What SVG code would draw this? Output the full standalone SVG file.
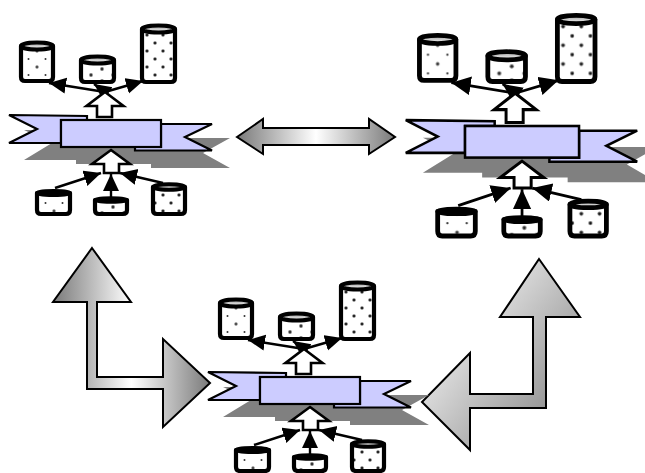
<svg xmlns="http://www.w3.org/2000/svg" width="645" height="473" viewBox="0 0 645 473">
<style>
.big{stroke:#000;stroke-width:2;stroke-linejoin:miter}
.rib{fill:#ccccff;stroke:#000;stroke-width:2.200;stroke-linejoin:miter}
.shadow{fill:#808080}
.hollow{fill:#fff;stroke:#000;stroke-width:2.600;stroke-linejoin:miter}
.cyl{stroke:#000;stroke-width:4.200;stroke-linejoin:round}
.cap{fill:url(#capg);stroke:#000;stroke-width:4}
.wire{fill:none;stroke:#000;stroke-width:2.400;marker-end:url(#head)}
.sparse{fill:url(#dotsA)}
.medium{fill:url(#dotsB)}
.dense{fill:url(#dotsC)}
</style>
<defs>
<linearGradient id="mid" x1="0" y1="0" x2="1" y2="0"><stop offset="0" stop-color="#7a7a7a"/><stop offset=".5" stop-color="#fff"/><stop offset="1" stop-color="#7a7a7a"/></linearGradient>
<linearGradient id="diag" gradientUnits="userSpaceOnUse" x1="440" y1="330" x2="560" y2="420"><stop offset="0" stop-color="#ececec"/><stop offset="1" stop-color="#8c8c8c"/></linearGradient>
<linearGradient id="capg" x1="0" y1="0" x2="0" y2="1"><stop offset="0" stop-color="#999"/><stop offset="1" stop-color="#fff"/></linearGradient>
<pattern id="dotsA" patternUnits="userSpaceOnUse" width="17" height="16"><rect width="17" height="16" fill="#fff"/><circle cx="3" cy="3" r="1.700" fill="#777"/><circle cx="3" cy="3" r=".8" fill="#222"/><circle cx="11.500" cy="11" r="1" fill="#333"/></pattern>
<pattern id="dotsB" patternUnits="userSpaceOnUse" width="22" height="12"><rect width="22" height="12" fill="#fff"/><circle cx="3" cy="3" r="1.900" fill="#777"/><circle cx="3" cy="3" r="1" fill="#222"/><circle cx="14" cy="9" r="1.900" fill="#777"/><circle cx="14" cy="9" r="1" fill="#222"/></pattern>
<pattern id="dotsC" patternUnits="userSpaceOnUse" width="16" height="16"><rect width="16" height="16" fill="#fff"/><circle cx="3" cy="3" r="1.800" fill="#666"/><circle cx="3" cy="3" r="1" fill="#111"/><circle cx="11" cy="11" r="1.800" fill="#666"/><circle cx="11" cy="11" r="1" fill="#111"/></pattern>
<marker id="head" markerUnits="userSpaceOnUse" markerWidth="20" markerHeight="18" refX="17" refY="8" orient="auto"><path d="M0,0L17,8L0,16Z" fill="#000"/></marker>
<path id="ribbon-l" d="M9,115L87,116V120H61V143H9L37,129Z"/>
<path id="ribbon-r" d="M212,124H161V147H135V150.500H212L185,137Z"/>
<g id="hub">
<path class="shadow" d="M24,130H100V138H230L203,153L230,168H151V164H76V160H24L52,143Z"/>
<use href="#ribbon-l" class="rib"/><use href="#ribbon-r" class="rib"/>
<rect x="61" y="120" width="100" height="27" class="rib"/>
</g>
<g id="cyl-a"><path class="cyl sparse" d="M21,46V77Q21,81 25,81H49Q53,81 53,77V46Z"/><ellipse class="cap" cx="37" cy="46" rx="16" ry="3.500"/></g>
<g id="cyl-b"><path class="cyl medium" d="M81,60V78Q81,82 85,82H110Q114,82 114,78V60Z"/><ellipse class="cap" cx="97.500" cy="60" rx="16.500" ry="3.500"/></g>
<g id="cyl-c"><path class="cyl dense" d="M142,29V78Q142,82 146,82H171Q175,82 175,78V29Z"/><ellipse class="cap" cx="158.500" cy="29" rx="16.500" ry="3.500"/></g>
<g id="cyl-d"><path class="cyl sparse" d="M37,193V210Q37,214 41,214H66Q70,214 70,210V193Z"/><ellipse class="cap" cx="53.500" cy="193" rx="16.500" ry="2"/></g>
<g id="cyl-e"><path class="cyl medium" d="M95,200V210Q95,214 99,214H123Q127,214 127,210V200Z"/><ellipse class="cap" cx="111" cy="200" rx="16" ry="1.800"/></g>
<g id="cyl-f"><path class="cyl dense" d="M153,187V210Q153,214 157,214H181Q185,214 185,210V187Z"/><ellipse class="cap" cx="169" cy="187" rx="16" ry="2.800"/></g>
<g id="wires">
<path class="wire" d="M105,92L49,83"/><path class="wire" d="M105,92L143,81"/><path class="wire" d="M108,94L94,84"/>
<path class="hollow" d="M105,92L123.500,106H112V117H97V106H86.500Z"/>
<path class="hollow" d="M111,150L130,164H119V173H104V164H92Z"/>
<path class="wire" d="M55,188L101,173"/><path class="wire" d="M111,197V174"/><path class="wire" d="M163,183L120,173"/>
</g>
</defs>
<g id="connectors">
<path id="double-arrow" class="big" fill="url(#mid)" d="M237,137L263,119V128H369V119L395,137L369,154V145H263V154Z"/>
<path id="bent-arrow-left" class="big" fill="url(#mid)" d="M92,248L131,302H97V377H163V339L210,383L163,427V389H87V302H53Z"/>
<path id="bent-arrow-right" class="big" fill="url(#diag)" d="M539,259L580,317H546V408H470V450L422,402L470,353V394H533V317H500Z"/>
</g>
<g id="cluster-1">
<g id="hub-1"><use href="#hub"/></g>
<g id="db-1a"><use href="#cyl-a"/></g><g id="db-1b"><use href="#cyl-b"/></g><g id="db-1c"><use href="#cyl-c"/></g>
<g id="db-1d"><use href="#cyl-d"/></g><g id="db-1e"><use href="#cyl-e"/></g><g id="db-1f"><use href="#cyl-f"/></g>
<g id="links-1"><use href="#wires"/></g>
</g>
<g id="cluster-2" transform="translate(395.500,-14.400) scale(1.14,1.17)">
<g id="hub-2"><use href="#hub"/></g>
<g id="db-2a"><use href="#cyl-a"/></g><g id="db-2b"><use href="#cyl-b"/></g><g id="db-2c"><use href="#cyl-c"/></g>
<g id="db-2d"><use href="#cyl-d"/></g><g id="db-2e"><use href="#cyl-e"/></g><g id="db-2f"><use href="#cyl-f"/></g>
<g id="links-2"><use href="#wires"/></g>
</g>
<g id="cluster-3" transform="translate(199,257)">
<g id="hub-3"><use href="#hub"/></g>
<g id="db-3a"><use href="#cyl-a"/></g><g id="db-3b"><use href="#cyl-b"/></g><g id="db-3c"><use href="#cyl-c"/></g>
<g id="db-3d"><use href="#cyl-d"/></g><g id="db-3e"><use href="#cyl-e"/></g><g id="db-3f"><use href="#cyl-f"/></g>
<g id="links-3"><use href="#wires"/></g>
</g>
</svg>
